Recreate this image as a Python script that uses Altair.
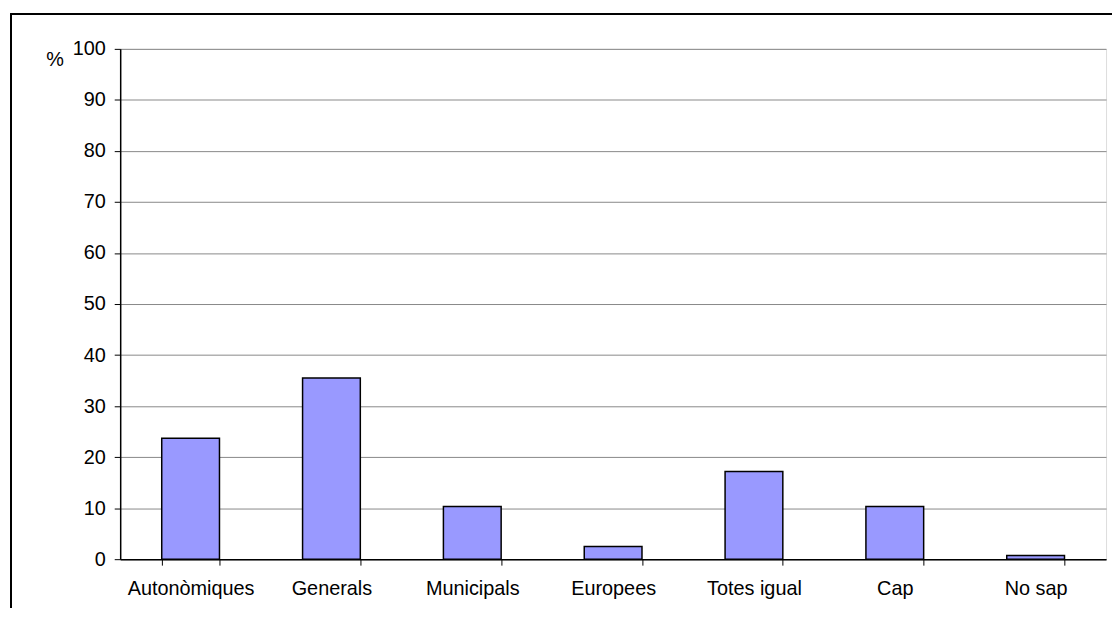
import altair as alt
import pandas as pd

categories = ["Autonòmiques", "Generals", "Municipals", "Europees", "Totes igual", "Cap", "No sap"]
values = [23.7, 35.5, 10.3, 2.5, 17.2, 10.3, 0.7]

df = pd.DataFrame({"cat": categories, "val": values})

W, H = 993, 514

bars = alt.Chart(df).mark_bar(
    color="#9999FF", stroke="#000000", strokeWidth=1.5
).encode(
    x=alt.X("cat:N", sort=categories,
            scale=alt.Scale(paddingInner=0.59, paddingOuter=0.295),
            axis=alt.Axis(title=None, labelAngle=0, labelFont="Liberation Sans",
                          labelFontSize=20, labelColor="#000000", labelPadding=14,
                          tickSize=6, tickColor="#000000", domainColor="#000000",
                          domainWidth=1.5, tickBand="extent", grid=False)),
    y=alt.Y("val:Q", scale=alt.Scale(domain=[0, 100], nice=False),
            axis=alt.Axis(title="%", titleAngle=0, titleAlign="center",
                          titleBaseline="middle", titleX=-66, titleY=11,
                          titleFont="Liberation Sans", titleFontSize=20,
                          titleFontWeight="normal", titleColor="#000000",
                          values=list(range(0, 101, 10)),
                          labelFont="Liberation Sans", labelFontSize=20,
                          labelColor="#000000", labelPadding=9,
                          tickSize=6, tickColor="#000000", domainColor="#000000",
                          domainWidth=1.5, gridColor="#888888", gridWidth=1)),
)

frame = alt.Chart(df).mark_rect(
    fill=None, stroke="#000000", strokeWidth=1.5
).encode(
    x=alt.value(-110), x2=alt.value(1030),
    y=alt.value(-35), y2=alt.value(640),
)

chart = alt.layer(frame, bars).properties(
    width=W, height=H,
    autosize="none",
    padding={"left": 113, "top": 39, "right": 6, "bottom": 47},
).configure_view(
    stroke="#999999", strokeWidth=2
).configure(background="#ffffff")

chart.save("out.html", embed_options={"renderer": "svg", "actions": False})
